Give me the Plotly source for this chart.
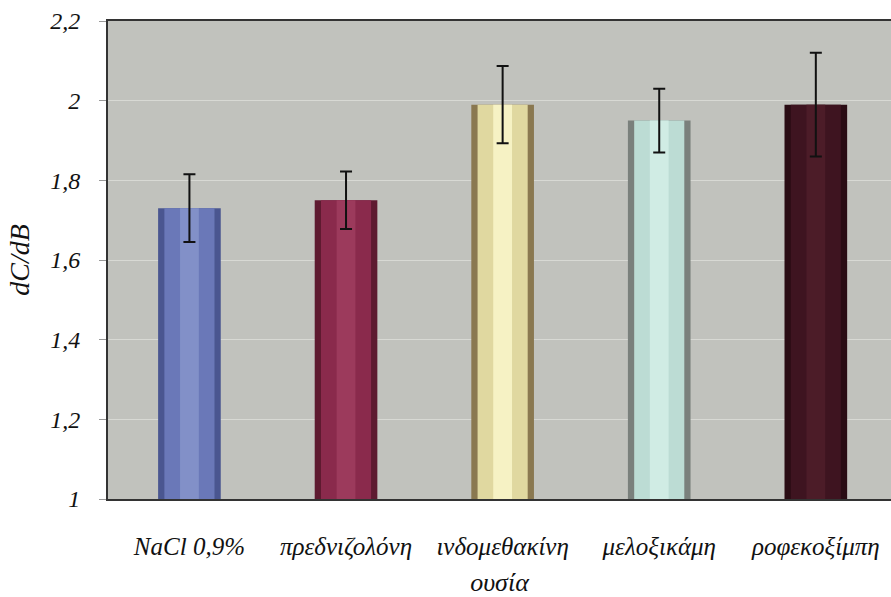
import plotly.graph_objects as go

categories = ["NaCl 0,9%", "πρεδνιζολόνη", "ινδομεθακίνη", "μελοξικάμη", "ροφεκοξίμπη"]
values = [1.73, 1.75, 1.99, 1.95, 1.99]
errors = [0.085, 0.072, 0.097, 0.08, 0.13]
y_ticks = [1, 1.2, 1.4, 1.6, 1.8, 2, 2.2]

edge_colors = ["#4a5690", "#5e1a30", "#8a7850", "#7a807c", "#2a0c14"]
main_colors = ["#6a78b8", "#8a2a4c", "#e0d8a0", "#bcdcd4", "#3e1420"]
light_colors = ["#8290c8", "#9c3a5c", "#f6f2c4", "#d0ece4", "#4c1c28"]

font_family = "Liberation Serif"

fig = go.Figure()
fig.add_trace(go.Bar(x=categories, y=[v - 1 for v in values], base=1, width=0.40,
                     marker=dict(color=edge_colors, line=dict(width=0)), hoverinfo="skip"))
fig.add_trace(go.Bar(x=categories, y=[v - 1 for v in values], base=1, width=0.32,
                     marker=dict(color=main_colors, line=dict(width=0)), hoverinfo="skip"))
fig.add_trace(go.Bar(x=categories, y=[v - 1 for v in values], base=1, width=0.12,
                     marker=dict(color=light_colors, line=dict(width=0)),
                     error_y=dict(type="data", array=errors, visible=True,
                                  color="#111111", thickness=2, width=6)))

fig.update_layout(
    width=891, height=597,
    barmode="overlay",
    showlegend=False,
    paper_bgcolor="white",
    plot_bgcolor="#c1c2bd",
    margin=dict(l=108, r=0, t=21, b=98, autoexpand=False),
    separators=",.",
    font=dict(family=font_family, size=24, color="#111111"),
    xaxis=dict(
        range=[-0.52, 4.48],
        automargin=False,
        showgrid=False,
        showline=True, linecolor="#333333", linewidth=2,
        ticks="", ticklabelstandoff=24,
        tickfont=dict(family=font_family, size=25, style="italic"),
        title=dict(text="ουσία", font=dict(family=font_family, size=26, style="italic"), standoff=14),
        mirror=True,
    ),
    yaxis=dict(
        range=[1, 2.2],
        automargin=False,
        tickvals=y_ticks,
        showgrid=True, gridcolor="#d8d9d4", gridwidth=1,
        showline=True, linecolor="#333333", linewidth=2,
        ticks="outside", ticklen=7, tickcolor="#999999",
        ticklabelstandoff=14,
        tickfont=dict(family=font_family, size=24, style="italic"),
        title=dict(text="dC/dB", font=dict(family=font_family, size=28, style="italic"), standoff=12),
        zeroline=False,
    ),
)

fig.write_html(
    "out.html",
    config={"displayModeBar": False},
    post_script="document.body.style.margin='0';document.body.style.overflow='hidden';",
)
